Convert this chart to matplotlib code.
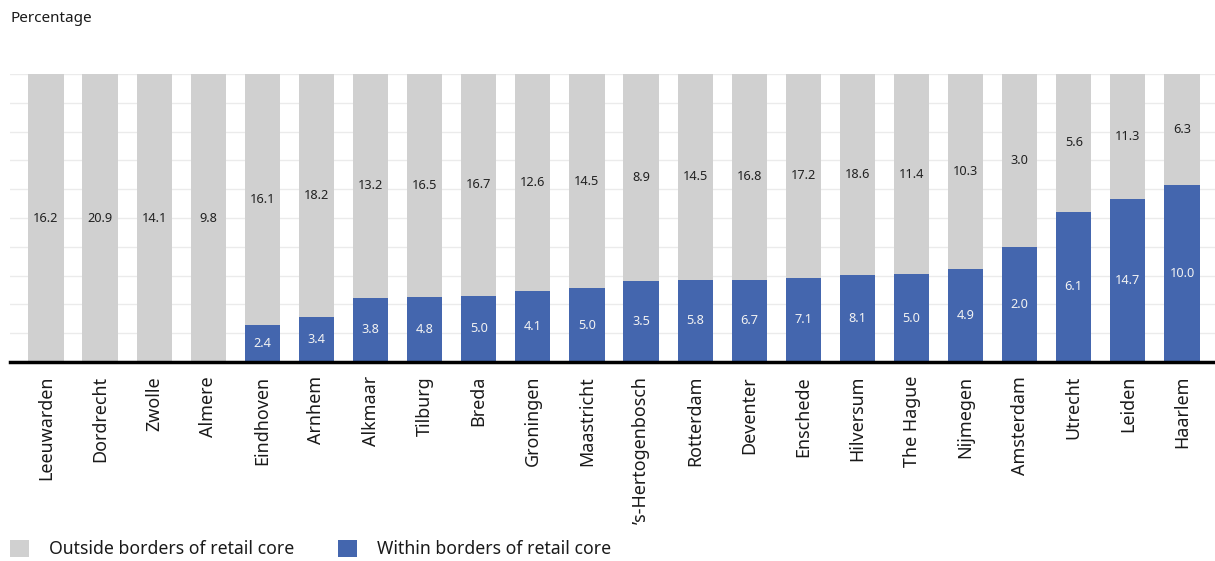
import matplotlib
matplotlib.use("Agg")
import matplotlib.pyplot as plt
import numpy as np
from matplotlib.patches import Patch

cities = ["Leeuwarden", "Dordrecht", "Zwolle", "Almere", "Eindhoven", "Arnhem",
          "Alkmaar", "Tilburg", "Breda", "Groningen", "Maastricht",
          "\u2019s-Hertogenbosch", "Rotterdam", "Deventer", "Enschede", "Hilversum",
          "The Hague", "Nijmegen", "Amsterdam", "Utrecht", "Leiden", "Haarlem"]
outside = [16.2, 20.9, 14.1, 9.8, 16.1, 18.2, 13.2, 16.5, 16.7, 12.6, 14.5,
           8.9, 14.5, 16.8, 17.2, 18.6, 11.4, 10.3, 3.0, 5.6, 11.3, 6.3]
within = [0, 0, 0, 0, 2.4, 3.4, 3.8, 4.8, 5.0, 4.1, 5.0,
          3.5, 5.8, 6.7, 7.1, 8.1, 5.0, 4.9, 2.0, 6.1, 14.7, 10.0]
series_names = ["Outside borders of retail core", "Within borders of retail core"]

GRAY = "#D0D0D0"
BLUE = "#4466AE"
FONT = "Noto Sans"

plt.rcParams['font.family'] = [FONT, 'DejaVu Sans']

fig = plt.figure(figsize=(12.15, 5.61), dpi=100)
ax = fig.add_axes([10/1215, (561-362)/561, 1205/1215, (362-74)/561])

w = np.array(within, float)
o = np.array(outside, float)
tot = w + o
wp = w / tot * 100
op = o / tot * 100
x = np.arange(len(cities))
bw = 0.65

ax.bar(x, wp, width=bw, color=BLUE, zorder=2)
ax.bar(x, op, width=bw, bottom=wp, color=GRAY, zorder=2)

for i in range(len(x)):
    if w[i] > 0:
        ax.text(x[i], wp[i] / 2, f"{w[i]:.1f}", ha="center", va="center",
                color="#F2F2F2", fontsize=9.2, zorder=3)
    ax.text(x[i], wp[i] + op[i] / 2, f"{o[i]:.1f}", ha="center", va="center",
            color="#222222", fontsize=9.2, zorder=3)

ax.set_ylim(0, 100)
ax.set_xlim(-0.665, len(cities) - 1 + 0.61)
ax.set_yticks(np.arange(0, 101, 10))
ax.yaxis.grid(True, color="#EBEBEB", linewidth=1, zorder=0)
ax.set_axisbelow(True)
ax.tick_params(axis="y", left=False, labelleft=False)
ax.tick_params(axis="x", length=0, pad=10, labelsize=12.9, labelcolor="#1A1A1A")
ax.set_xticks(x)
ax.set_xticklabels(cities, rotation=90, va="top", ha="center")
for s in ["left", "right", "top"]:
    ax.spines[s].set_visible(False)
ax.spines["bottom"].set_linewidth(2.5)
ax.spines["bottom"].set_color("black")
ax.spines["bottom"].set_zorder(4)

fig.text(10/1215, 1 - 18/561, "Percentage", ha="left", va="center",
         fontsize=11, color="#1A1A1A")

handles = [Patch(facecolor=GRAY, edgecolor="none"), Patch(facecolor=BLUE, edgecolor="none")]
fig.legend(handles, series_names, loc="lower left", bbox_to_anchor=(-0.002, -0.017),
           ncol=2, frameon=False, fontsize=12.7, handlelength=1.1, handleheight=1.1,
           handletextpad=1.1, columnspacing=2.5, borderaxespad=0.3,
           labelcolor="#1A1A1A")

fig.savefig("out.png", dpi=100)
